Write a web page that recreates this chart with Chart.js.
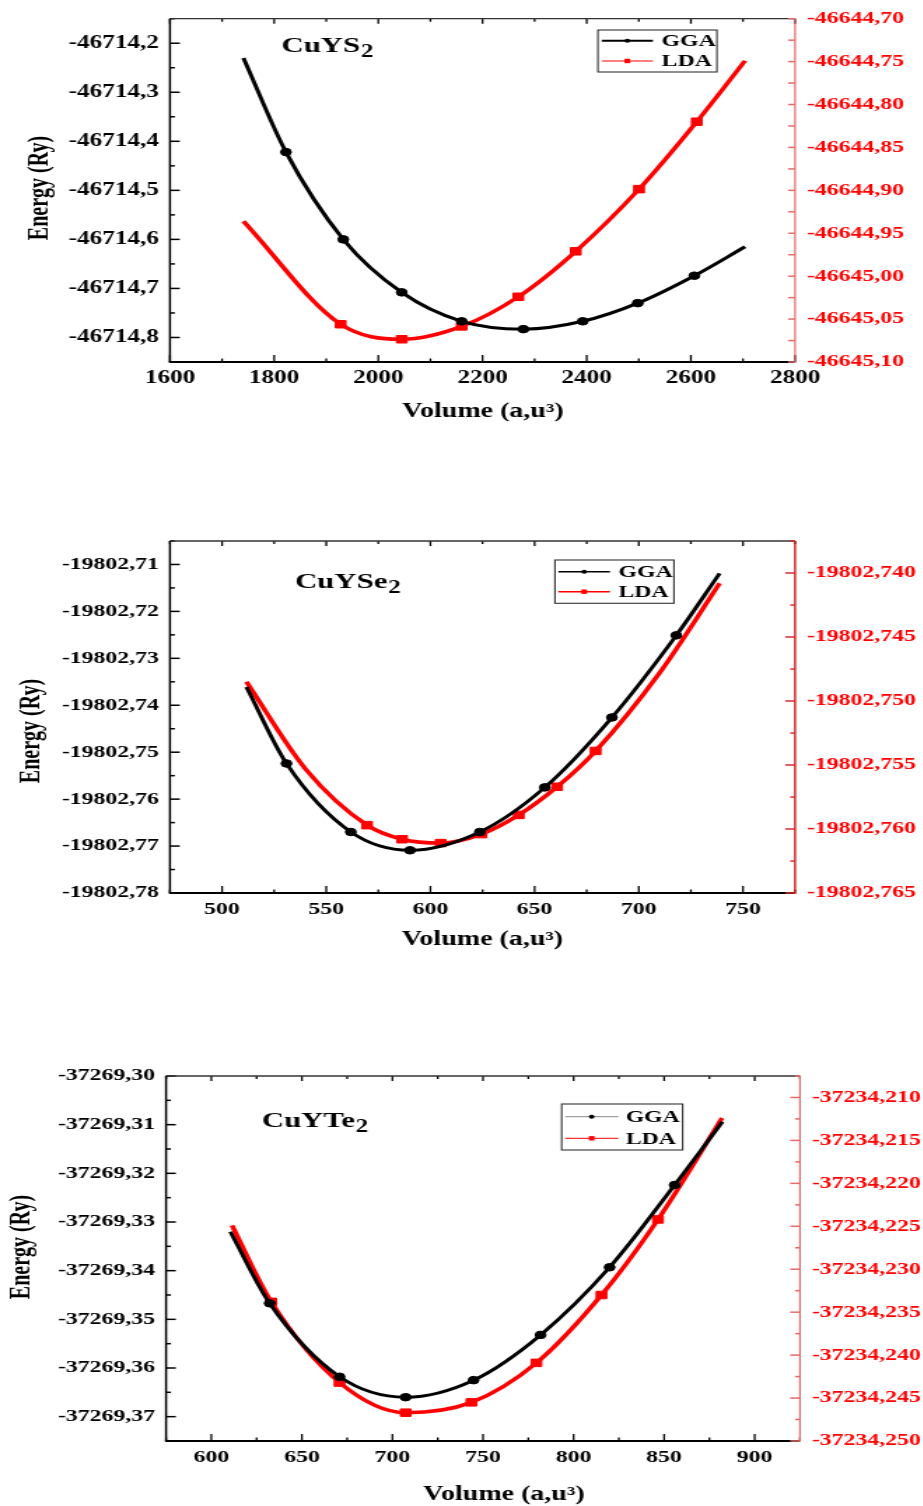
<!DOCTYPE html>
<html>
<head>
<meta charset="utf-8">
<title>E(V) curves</title>
<script src="https://cdn.jsdelivr.net/npm/chart.js@4.4.0/dist/chart.umd.min.js"></script>
<style>
  html, body { margin: 0; padding: 0; background: #fff; overflow: hidden; }
  body { position: relative; width: 923px; height: 1506px; }
  canvas { position: absolute; left: 0; transform: scaleX(1.4); transform-origin: 0 0; }
</style>
</head>
<body>
<canvas id="cuys2" width="660" height="430" style="top:0px"></canvas>
<canvas id="cuyse2" width="660" height="440" style="top:520px"></canvas>
<canvas id="cuyte2" width="660" height="451" style="top:1055px"></canvas>
<script>
// ---- CuYS2 ----
const xRangeS = [1600, 2800];
const yRangeS = [-46714.85, -46714.15];
const y2RangeS = [-46645.10, -46644.70];
const xTicksS = [1600, 1800, 2000, 2200, 2400, 2600, 2800];
const yTicksS = [-46714.8, -46714.7, -46714.6, -46714.5, -46714.4, -46714.3, -46714.2];
const y2TicksS = [-46645.10, -46645.05, -46645.00, -46644.95, -46644.90, -46644.85, -46644.80, -46644.75, -46644.70];
const volGgaS = [1741, 1822.7, 1932.8, 2044.9, 2160, 2278.5, 2392.4, 2498, 2606.7, 2704];
const eGgaS = [-46714.230, -46714.422, -46714.600, -46714.708, -46714.767, -46714.783, -46714.767, -46714.730, -46714.674, -46714.615];
const markGgaS = [1, 2, 3, 4, 5, 6, 7, 8];
const volLdaS = [1741, 1927.7, 2044.9, 2160, 2268.8, 2379, 2500.5, 2611.3, 2704];
const eLdaS = [-46644.936, -46645.056, -46645.0735, -46645.0585, -46645.024, -46644.971, -46644.8986, -46644.820, -46644.749];
const markLdaS = [1, 2, 3, 4, 5, 6, 7];

// ---- CuYSe2 ----
const xRangeSe = [475, 775];
const yRangeSe = [-19802.78, -19802.705];
const y2RangeSe = [-19802.765, -19802.7375];
const xTicksSe = [500, 550, 600, 650, 700, 750];
const yTicksSe = [-19802.78, -19802.77, -19802.76, -19802.75, -19802.74, -19802.73, -19802.72, -19802.71];
const y2TicksSe = [-19802.765, -19802.760, -19802.755, -19802.750, -19802.745, -19802.740];
const volGgaSe = [511.7, 530.9, 561.8, 590.2, 623.7, 654.9, 687.1, 718, 738.8];
const eGgaSe = [-19802.7361, -19802.7524, -19802.7670, -19802.7709, -19802.7670, -19802.7575, -19802.7426, -19802.7251, -19802.7119];
const markGgaSe = [1, 2, 3, 4, 5, 6, 7];
const volLdaSe = [511.7, 540, 569.6, 586.4, 604.9, 624.5, 642.4, 660.8, 679.3, 710, 738.8];
const eLdaSe = [-19802.7485, -19802.7553, -19802.7597, -19802.7608, -19802.7611, -19802.7604, -19802.7589, -19802.7567, -19802.7539, -19802.7478, -19802.7408];
const markLdaSe = [2, 3, 4, 5, 6, 7, 8];

// ---- CuYTe2 ----
const xRangeTe = [575, 925];
const yRangeTe = [-37269.375, -37269.30];
const y2RangeTe = [-37234.25, -37234.2075];
const xTicksTe = [600, 650, 700, 750, 800, 850, 900];
const yTicksTe = [-37269.37, -37269.36, -37269.35, -37269.34, -37269.33, -37269.32, -37269.31, -37269.30];
const y2TicksTe = [-37234.250, -37234.245, -37234.240, -37234.235, -37234.230, -37234.225, -37234.220, -37234.215, -37234.210];
const volGgaTe = [610.5, 632.2, 670.8, 707.3, 744.8, 781.8, 819.9, 855.8, 882.2];
const eGgaTe = [-37269.3320, -37269.3467, -37269.3618, -37269.3660, -37269.3625, -37269.3532, -37269.3393, -37269.3224, -37269.3094];
const markGgaTe = [1, 2, 3, 4, 5, 6, 7];
const volLdaTe = [611.4, 633.1, 670.8, 707.3, 743.6, 779.5, 815.4, 846.6, 882];
const eLdaTe = [-37234.2249, -37234.2338, -37234.2432, -37234.2467, -37234.2455, -37234.2409, -37234.2330, -37234.2242, -37234.2124];
const markLdaTe = [1, 2, 3, 4, 5, 6, 7];

const SERIF = '"Liberation Serif", "Times New Roman", serif';
const X_TITLE = 'Volume (a,u\u00b3)';
const Y_TITLE = 'Energy (Ry)';

const pts = (xs, ys) => xs.map((x, i) => ({ x, y: ys[i] }));
const fmt = d => v => v.toFixed(d).replace('.', ',');

// frame: axis lines, inward ticks, compound name, legend box, axis titles
const frame = {
  id: 'frame',
  afterDraw(chart, args, o) {
    const { ctx, chartArea: a, scales } = chart;
    const line = (x1, y1, x2, y2) => { ctx.beginPath(); ctx.moveTo(x1, y1); ctx.lineTo(x2, y2); ctx.stroke(); };
    const marks = (scale, draw) => {
      const major = scale.ticks.map(t => t.value);
      const half = (major[1] - major[0]) / 2;
      const eps = Math.abs(half) * 1e-3;
      for (let k = -60; k <= 60; k++) {
        const v = major[0] + k * half;
        if (v < scale.min - eps || v > scale.max + eps) continue;
        draw(scale.getPixelForValue(v), k % 2 === 0);
      }
    };
    ctx.save();

    ctx.strokeStyle = '#000';
    ctx.lineWidth = 1.3;
    marks(scales.x, (px, big) => {
      line(px, a.bottom, px, a.bottom - (big ? 7 : 3.5));
      line(px, a.top, px, a.top + (big ? 5 : 3));
    });
    ctx.lineWidth = 1.5;
    marks(scales.y, (py, big) => line(a.left, py, a.left + (big ? 7 : 3.5), py));

    ctx.strokeStyle = '#333';
    ctx.lineWidth = 1.3;
    line(a.left, a.top, a.right, a.top);
    ctx.strokeStyle = '#000';
    ctx.lineWidth = 2;
    line(a.left - 0.7, a.bottom, a.right, a.bottom);
    ctx.lineWidth = 1.5;
    line(a.left, a.top, a.left, a.bottom);

    const r = o.right;
    ctx.strokeStyle = r.color;
    ctx.lineWidth = r.width;
    line(a.right, a.top, a.right, a.bottom + 1);
    ctx.lineWidth = 1.5;
    marks(scales.y2, (py, big) => line(a.right, py, a.right - (big ? r.major : r.minor), py));

    // compound name with subscript
    ctx.fillStyle = '#000';
    ctx.textAlign = 'left';
    ctx.textBaseline = 'alphabetic';
    ctx.font = `bold 22px ${SERIF}`;
    ctx.fillText(o.formula[0], o.formulaAt[0], o.formulaAt[1]);
    const w = ctx.measureText(o.formula[0]).width;
    ctx.font = `bold 18px ${SERIF}`;
    ctx.fillText(o.formula[1], o.formulaAt[0] + w + 0.5, o.formulaAt[1] + 5);

    // legend
    const lg = o.legend;
    ctx.strokeStyle = '#333';
    ctx.lineWidth = 1.1;
    ctx.strokeRect(lg.box[0], lg.box[1], lg.box[2], lg.box[3]);
    chart.data.datasets.forEach((ds, i) => {
      const y = lg.rows[i];
      ctx.strokeStyle = lg.lineColors[i];
      ctx.lineWidth = lg.widths[i];
      line(lg.line[0], y, lg.line[1], y);
      const mx = (lg.line[0] + lg.line[1]) / 2;
      ctx.fillStyle = ds.borderColor;
      if (ds.pointStyle === 'rect') {
        ctx.fillRect(mx - 2, y - 2.2, 4, 4.4);
      } else {
        ctx.beginPath();
        ctx.arc(mx, y, 2, 0, 2 * Math.PI);
        ctx.fill();
      }
      ctx.fillStyle = '#000';
      ctx.font = `bold 17px ${SERIF}`;
      ctx.textBaseline = 'middle';
      ctx.fillText(ds.label, lg.textX, y + 1);
    });

    // axis titles
    ctx.fillStyle = '#000';
    ctx.textAlign = 'center';
    ctx.textBaseline = 'middle';
    ctx.font = `bold 20px ${SERIF}`;
    ctx.fillText(X_TITLE, o.xTitleAt[0], o.xTitleAt[1]);
    ctx.translate(o.yTitleAt[0], o.yTitleAt[1]);
    ctx.rotate(-Math.PI / 2);
    ctx.fillText(Y_TITLE, 0, 0);
    ctx.restore();
  }
};

function axisFont(size) {
  return { family: SERIF, weight: 'bold', size };
}

function evChart(id, s, look) {
  const fixTicks = arr => sc => { sc.ticks = arr.map(value => ({ value })); };
  return new Chart(document.getElementById(id), {
    type: 'line',
    data: {
      datasets: [
        {
          label: 'GGA',
          yAxisID: 'y',
          data: pts(s.volGga, s.eGga),
          borderColor: '#000000',
          backgroundColor: '#000000',
          borderWidth: 3,
          pointStyle: 'circle',
          pointBorderWidth: 1,
          pointRadius: c => s.markGga.includes(c.dataIndex) ? 3.8 : 0,
          cubicInterpolationMode: 'monotone'
        },
        {
          label: 'LDA',
          yAxisID: 'y2',
          data: pts(s.volLda, s.eLda),
          borderColor: '#ff0000',
          backgroundColor: '#ff0000',
          borderWidth: 3.5,
          pointStyle: 'rect',
          pointBorderWidth: 1,
          pointRadius: c => s.markLda.includes(c.dataIndex) ? 5.3 : 0,
          cubicInterpolationMode: 'monotone'
        }
      ]
    },
    options: {
      responsive: false,
      animation: false,
      events: [],
      layout: { padding: { top: look.top, left: 0, right: 0, bottom: 0 } },
      scales: {
        x: {
          type: 'linear',
          bounds: 'data',
          min: s.xRange[0],
          max: s.xRange[1],
          afterBuildTicks: fixTicks(s.xTicks),
          afterFit: sc => { sc.height = look.xAxisH; },
          grid: { display: false, drawTicks: false },
          border: { display: false },
          ticks: { color: '#000', padding: look.xPad, font: axisFont(look.xFont), callback: v => String(v) }
        },
        y: {
          type: 'linear',
          position: 'left',
          bounds: 'data',
          min: s.yRange[0],
          max: s.yRange[1],
          afterBuildTicks: fixTicks(s.yTicks),
          afterFit: sc => { sc.width = look.yAxisW; },
          grid: { display: false, drawTicks: false },
          border: { display: false },
          ticks: { color: '#000', padding: 7.8, font: axisFont(look.yFont), callback: fmt(look.yDigits) }
        },
        y2: {
          type: 'linear',
          position: 'right',
          bounds: 'data',
          min: s.y2Range[0],
          max: s.y2Range[1],
          afterBuildTicks: fixTicks(s.y2Ticks),
          afterFit: sc => { sc.width = look.y2AxisW; },
          grid: { display: false, drawTicks: false },
          border: { display: false },
          ticks: { color: '#ff0000', padding: 8.5, font: axisFont(17), callback: fmt(look.y2Digits) }
        }
      },
      plugins: {
        legend: { display: false },
        tooltip: { enabled: false },
        frame: look.frame
      }
    },
    plugins: [frame]
  });
}

evChart('cuys2', {
  xRange: xRangeS, yRange: yRangeS, y2Range: y2RangeS,
  xTicks: xTicksS, yTicks: yTicksS, y2Ticks: y2TicksS,
  volGga: volGgaS, eGga: eGgaS, markGga: markGgaS,
  volLda: volLdaS, eLda: eLdaS, markLda: markLdaS
}, {
  top: 15, xAxisH: 68, yAxisW: 121.4, y2AxisW: 92.1, xPad: 6,
  xFont: 18, yFont: 18, yDigits: 1, y2Digits: 2,
  frame: {
    formula: ['CuYS', '2'], formulaAt: [201, 52],
    xTitleAt: [345, 412], yTitleAt: [28.6, 188],
    right: { color: '#e46c6c', width: 1.2, major: 5, minor: 5 },
    legend: {
      box: [427.1, 30, 85, 42], rows: [40.7, 61], line: [429.8, 466.4], textX: 472.6,
      widths: [2, 1], lineColors: ['#000000', '#ff0000']
    }
  }
});

evChart('cuyse2', {
  xRange: xRangeSe, yRange: yRangeSe, y2Range: y2RangeSe,
  xTicks: xTicksSe, yTicks: yTicksSe, y2Ticks: y2TicksSe,
  volGga: volGgaSe, eGga: eGgaSe, markGga: markGgaSe,
  volLda: volLdaSe, eLda: eLdaSe, markLda: markLdaSe
}, {
  top: 21, xAxisH: 67, yAxisW: 121.4, y2AxisW: 92.1, xPad: 6,
  xFont: 17, yFont: 17, yDigits: 2, y2Digits: 3,
  frame: {
    formula: ['CuYSe', '2'], formulaAt: [210.7, 68],
    xTitleAt: [344.6, 420], yTitleAt: [22.9, 211],
    right: { color: '#d42a2a', width: 1.5, major: 7, minor: 3.5 },
    legend: {
      box: [396.4, 40, 85, 43.3], rows: [51.7, 71.7], line: [398.8, 435.7], textX: 441.7,
      widths: [1.5, 1.5], lineColors: ['#000000', '#ff0000']
    }
  }
});

evChart('cuyte2', {
  xRange: xRangeTe, yRange: yRangeTe, y2Range: y2RangeTe,
  xTicks: xTicksTe, yTicks: yTicksTe, y2Ticks: y2TicksTe,
  volGga: volGgaTe, eGga: eGgaTe, markGga: markGgaTe,
  volLda: volLdaTe, eLda: eLdaTe, markLda: markLdaTe
}, {
  top: 21, xAxisH: 65, yAxisW: 118.6, y2AxisW: 88.6, xPad: 6,
  xFont: 17, yFont: 17, yDigits: 2, y2Digits: 3,
  frame: {
    formula: ['CuYTe', '2'], formulaAt: [187, 72],
    xTitleAt: [360, 440], yTitleAt: [16, 192],
    right: { color: '#e86a6a', width: 1.2, major: 7, minor: 3.5 },
    legend: {
      box: [401.2, 49, 86.4, 46], rows: [61.7, 83.3], line: [403.6, 441.7], textX: 446.9,
      widths: [1, 1], lineColors: ['#888888', '#ff0000']
    }
  }
});
</script>
</body>
</html>
